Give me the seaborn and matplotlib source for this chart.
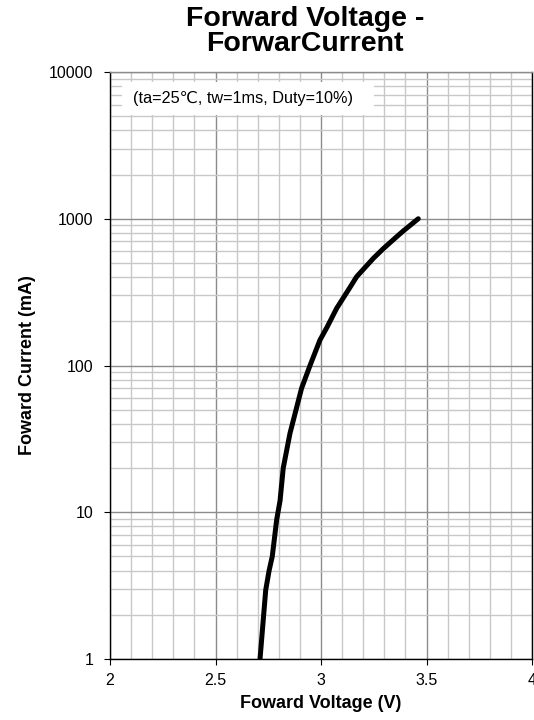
import matplotlib
matplotlib.use("Agg")
import matplotlib.pyplot as plt
import seaborn as sns
import pandas as pd
import numpy as np
from matplotlib.patches import Rectangle
from matplotlib.ticker import FixedLocator, LogLocator, NullFormatter, FixedFormatter

voltage = [2.711, 2.738, 2.754, 2.769, 2.79, 2.806, 2.821, 2.853, 2.908, 2.948,
           2.995, 3.03, 3.074, 3.137, 3.169, 3.248, 3.295, 3.359, 3.39, 3.461]
current = [1, 2.95, 4, 5, 8.9, 12, 20, 34.5, 70, 100,
           149, 184, 245, 340, 403, 537, 625, 755, 826, 1000]
x_ticks = [2, 2.5, 3, 3.5, 4]
x_tick_labels = ["2", "2.5", "3", "3.5", "4"]
y_ticks = [1, 10, 100, 1000, 10000]
y_tick_labels = ["1", "10", "100", "1000", "10000"]

title = "Forward Voltage -\nForwarCurrent"
xlabel = "Foward Voltage (V)"
ylabel = "Foward Current (mA)"
note = "(ta=25\u2103, tw=1ms, Duty=10%)"

sns.set_style("white")
plt.rcParams['font.family'] = ['Liberation Sans', 'DejaVu Sans']
plt.rcParams['text.color'] = 'black'
plt.rcParams['axes.labelcolor'] = 'black'
plt.rcParams['xtick.color'] = 'black'
plt.rcParams['ytick.color'] = 'black'

df = pd.DataFrame({"V": voltage, "I": current})

fig = plt.figure(figsize=(5.34, 7.2), dpi=100)
ax = fig.add_axes([110/534, 1-659/720, 422/534, 587/720])

sns.lineplot(data=df, x="V", y="I", ax=ax, color="black", linewidth=3.6,
             solid_capstyle="round", solid_joinstyle="round", zorder=5, sort=False)

ax.set_yscale("log")
ax.set_xlim(2, 4)
ax.set_ylim(1, 10000)

ax.xaxis.set_major_locator(FixedLocator(x_ticks))
ax.xaxis.set_major_formatter(FixedFormatter(x_tick_labels))
ax.xaxis.set_minor_locator(FixedLocator(list(np.arange(2.1, 4.0, 0.1))))
ax.yaxis.set_major_locator(FixedLocator(y_ticks))
ax.yaxis.set_major_formatter(FixedFormatter(y_tick_labels))
ax.yaxis.set_minor_locator(LogLocator(base=10, subs=np.arange(2, 10)))
ax.yaxis.set_minor_formatter(NullFormatter())

ax.grid(which="major", axis="y", color="#8c8c8c", linewidth=1.0, zorder=0)
ax.grid(which="minor", axis="y", color="#c8c8c8", linewidth=1.0, zorder=0)
ax.grid(which="major", axis="x", color="#8c8c8c", linewidth=1.0, zorder=0)
ax.grid(which="minor", axis="x", color="#c8c8c8", linewidth=1.0, zorder=0)
ax.set_axisbelow(True)

ax.tick_params(axis="both", which="major", direction="out", length=4, width=0.8,
               color="black", labelcolor="black", labelsize=11.5, pad=3, left=True, bottom=True)
ax.tick_params(axis="both", which="minor", length=0)
ax.tick_params(axis="x", pad=6)
ax.tick_params(axis="y", pad=8)

for side in ["left", "bottom", "right"]:
    ax.spines[side].set_color("black")
    ax.spines[side].set_linewidth(1.0)
ax.spines["top"].set_color("#8c8c8c")
ax.spines["top"].set_linewidth(1.0)

ax.set_xlabel(xlabel, fontsize=13, fontweight="bold", labelpad=5, color="black")
ax.set_ylabel(ylabel, fontsize=13, fontweight="bold", labelpad=9, color="black")

box = Rectangle((12/422, 1-(115-72)/587), 252/422, 33/587, transform=ax.transAxes,
                facecolor="white", edgecolor="none", zorder=2)
ax.add_patch(box)
ax.text(23/422, 1-(99-72)/587, note, transform=ax.transAxes, fontsize=11.7,
        va="center", ha="left", zorder=3, color="black")

fig.text(305/534, 1-6/720, title, ha="center", va="top", fontsize=20.5,
         fontweight="bold", linespacing=0.95, color="black")

fig.savefig("out.png", dpi=100)
